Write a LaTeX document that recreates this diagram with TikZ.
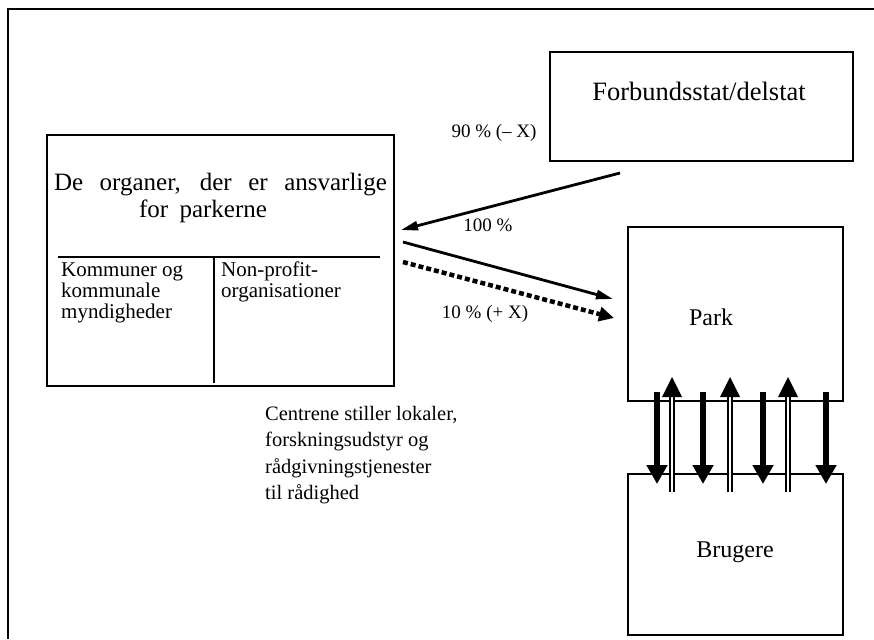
\documentclass[tikz,border=0pt]{standalone}
\usepackage{fontspec}
\setmainfont{Liberation Serif}
\usetikzlibrary{arrows.meta}
\begin{document}
\begin{tikzpicture}[x=1pt,y=-1pt,
  box/.style={draw, line width=1.8pt, inner sep=0pt, anchor=north west},
  divline/.style={line width=1.1pt},
  frameline/.style={line width=1.2pt},
  txt/.style={inner sep=0pt, anchor=base},
  txtl/.style={inner sep=0pt, anchor=base west},
  huge/.style={font=\fontsize{26.5}{28}\selectfont},
  big/.style={font=\fontsize{25}{26}\selectfont},
  boxlbl/.style={font=\fontsize{24}{26}\selectfont},
  mid/.style={font=\fontsize{20.5}{22}\selectfont},
  small/.style={font=\fontsize{21}{22}\selectfont},
  pct/.style={font=\fontsize{19}{21}\selectfont},
  flow/.style={line width=2.8pt, -{Triangle[length=17pt,width=9pt]}},
  dotflow/.style={line width=4.5pt, dash pattern=on 5pt off 3pt, -{Triangle[length=15pt,width=14pt]}},
  downarr/.style={line width=6pt, -{Triangle[length=19pt,width=20pt]}},
  upshaft/.style={line width=1.7pt, double=white, double distance=2pt},
]
\useasboundingbox (0,0) rectangle (874,639);
% outer frame (top and left visible)
\coordinate (fbl) at (8,639);
\coordinate (ftl) at (8,9);
\coordinate (ftr) at (874,9);
\draw[frameline] (fbl) -- (ftl) -- (ftr);

% boxes
\node[box, minimum width=303pt, minimum height=109pt] (fed) at (549,51) {};
\node[box, minimum width=347pt, minimum height=251pt] (org) at (46,134) {};
\node[box, minimum width=215pt, minimum height=174pt] (park) at (627,226) {};
\node[box, minimum width=215pt, minimum height=161pt] (brug) at (627,473) {};

% box texts
\node[txt, huge] (fedt) at (699,101) {Forbundsstat/delstat};
\node[txt, big] (orgt1) at (220.5,190.5) {\makebox[333pt][s]{De organer, der er ansvarlige}};
\node[txt, big] (orgt2) at (203,217) {\makebox[128pt][s]{for parkerne}};
\coordinate (hl1) at (58,257);
\coordinate (hl2) at (380,257);
\coordinate (vl1) at (214,257);
\coordinate (vl2) at (214,383);
\draw[divline] (hl1) -- (hl2);
\draw[divline] (vl1) -- (vl2);
\node[txtl, small] (k1) at (61,276) {Kommuner og};
\node[txtl, small] (k2) at (61,297) {kommunale};
\node[txtl, small] (k3) at (61,318) {myndigheder};
\node[txtl, small] (n1) at (221,276) {Non-profit-};
\node[txtl, small] (n2) at (221,297) {organisationer};
\node[txt, boxlbl] (parkt) at (711,325) {Park};
\node[txt, boxlbl] (brugt) at (735,557) {Brugere};

% labels
\node[txt, pct] (l90) at (494,138) {90 \% (– X)};
\node[txt, pct] (l100) at (488,231) {100 \%};
\node[txt, pct] (l10) at (485,318) {10 \% (+ X)};

% text below
\node[txtl, mid] (c1) at (265,420) {Centrene stiller lokaler,};
\node[txtl, mid] (c2) at (265,446.5) {forskningsudstyr og};
\node[txtl, mid] (c3) at (265,473) {rådgivningstjenester};
\node[txtl, mid] (c4) at (265,499.5) {til rådighed};

% main flows
\coordinate (a1s) at (620,173);
\coordinate (a1e) at (401,230);
\coordinate (a2s) at (403,242);
\coordinate (a2e) at (613,299);
\coordinate (a3s) at (403,262);
\coordinate (a3e) at (614,318);
\draw[flow] (a1s) -- (a1e);
\draw[flow] (a2s) -- (a2e);
\draw[dotflow] (a3s) -- (a3e);

% down arrows park -> brugere
\foreach \x [count=\i] in {657,703,763,826}{
  \coordinate (d\i s) at (\x,392);
  \coordinate (d\i e) at (\x,484);
  \draw[downarr] (d\i s) -- (d\i e);
}
% up arrows brugere -> park (double shaft)
\foreach \x [count=\i] in {672,730,788}{
  \coordinate (u\i s) at (\x,492);
  \coordinate (u\i m) at (\x,396);
  \coordinate (u\i t) at (\x,377);
  \draw[upshaft] (u\i s) -- (u\i m);
  \fill (u\i t) -- ++(-10,20) -- ++(20,0) -- cycle;
}
\end{tikzpicture}
\end{document}
